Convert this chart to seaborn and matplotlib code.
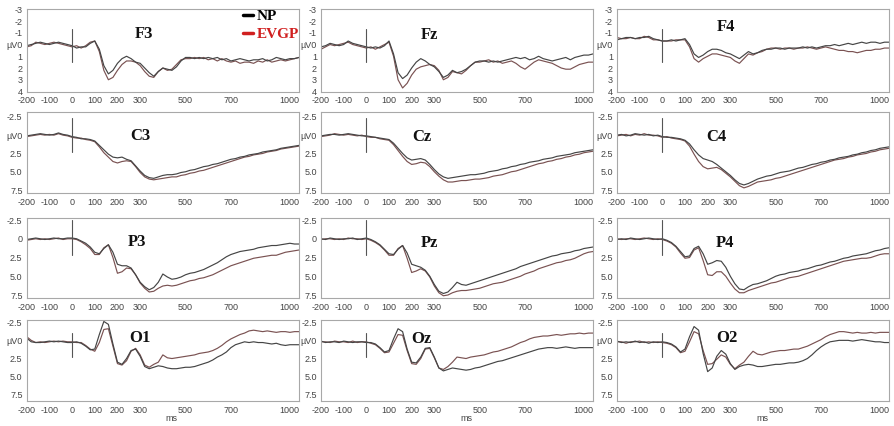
import numpy as np
import pandas as pd
import matplotlib
matplotlib.use("Agg")
import matplotlib.pyplot as plt
from matplotlib.lines import Line2D
import seaborn as sns

# Time axis (ms), sampled every 20 ms
times = np.arange(-200, 1001, 20)

# Grand-average ERP amplitudes (µV) per electrode, NP and EVGP groups
F3_NP = [0.1, 0.0, -0.1, -0.2, -0.1, 0.0, -0.1, -0.2, -0.1, 0.0,
         0.1, 0.3, 0.2, 0.2, -0.1, -0.3, 0.4, 1.8, 2.5, 2.2,
         1.6, 1.2, 1.0, 1.2, 1.5, 1.6, 2.0, 2.4, 2.7, 2.3,
         2.0, 2.1, 2.2, 1.9, 1.4, 1.1, 1.1, 1.2, 1.1, 1.2,
         1.1, 1.2, 1.1, 1.3, 1.2, 1.4, 1.3, 1.2, 1.3, 1.4,
         1.3, 1.3, 1.2, 1.4, 1.3, 1.1, 1.2, 1.3, 1.2, 1.2, 1.1]
F3_EVGP = [0.2, 0.1, -0.2, -0.1, 0.0, -0.1, -0.2, -0.1, 0.0, 0.1,
           0.2, 0.1, 0.3, 0.1, -0.2, -0.3, 0.6, 2.2, 3.0, 2.8,
           2.2, 1.7, 1.4, 1.4, 1.5, 1.8, 2.3, 2.7, 2.8, 2.3,
           2.0, 2.2, 2.1, 1.7, 1.3, 1.2, 1.2, 1.1, 1.2, 1.1,
           1.3, 1.2, 1.4, 1.2, 1.4, 1.5, 1.4, 1.6, 1.5, 1.5,
           1.6, 1.4, 1.5, 1.3, 1.5, 1.4, 1.3, 1.4, 1.3, 1.2, 1.1]

Fz_NP = [0.2, 0.1, -0.1, 0.0, 0.1, 0.0, -0.3, -0.1, 0.0, 0.1,
         0.2, 0.3, 0.2, 0.3, 0.1, -0.3, 0.8, 2.4, 2.9, 2.6,
         2.0, 1.5, 1.2, 1.4, 1.7, 1.9, 2.3, 2.8, 2.6, 2.2,
         2.4, 2.3, 2.1, 1.8, 1.5, 1.4, 1.4, 1.5, 1.4, 1.5,
         1.4, 1.3, 1.2, 1.1, 1.2, 1.1, 1.3, 1.2, 1.0, 1.2,
         1.3, 1.4, 1.3, 1.2, 1.1, 1.3, 1.1, 1.0, 0.9, 0.9, 0.8]
Fz_EVGP = [0.4, 0.2, 0.0, 0.1, 0.0, -0.1, -0.2, 0.0, 0.1, 0.2,
           0.3, 0.2, 0.4, 0.2, 0.0, -0.2, 1.0, 3.0, 3.7, 3.3,
           2.6, 2.1, 1.9, 1.8, 1.7, 1.8, 2.2, 3.0, 2.8, 2.3,
           2.4, 2.5, 2.2, 1.8, 1.5, 1.5, 1.4, 1.3, 1.5, 1.4,
           1.6, 1.5, 1.4, 1.6, 1.9, 2.1, 1.8, 1.5, 1.3, 1.4,
           1.5, 1.6, 1.8, 2.0, 2.1, 2.1, 1.9, 1.7, 1.6, 1.5, 1.5]

F4_NP = [-0.4, -0.5, -0.6, -0.6, -0.5, -0.6, -0.6, -0.7, -0.5, -0.4,
         -0.3, -0.3, -0.4, -0.3, -0.4, -0.5, 0.0, 0.8, 1.1, 0.9,
         0.6, 0.4, 0.4, 0.5, 0.7, 0.8, 1.0, 1.2, 0.9, 0.6,
         0.8, 0.7, 0.5, 0.4, 0.4, 0.3, 0.3, 0.4, 0.3, 0.3,
         0.3, 0.2, 0.3, 0.2, 0.3, 0.2, 0.1, 0.1, 0.0, 0.1,
         0.0, -0.1, 0.0, -0.1, -0.2, -0.1, -0.2, -0.2, -0.1, -0.2, -0.2]
F4_EVGP = [-0.6, -0.5, -0.5, -0.6, -0.5, -0.5, -0.7, -0.6, -0.4, -0.4,
           -0.3, -0.3, -0.3, -0.4, -0.4, -0.4, 0.2, 1.2, 1.5, 1.2,
           1.0, 0.8, 0.8, 0.9, 1.0, 1.1, 1.4, 1.6, 1.2, 0.8,
           0.9, 0.7, 0.6, 0.4, 0.3, 0.3, 0.4, 0.3, 0.3, 0.4,
           0.3, 0.3, 0.2, 0.3, 0.4, 0.3, 0.2, 0.3, 0.4, 0.5,
           0.5, 0.6, 0.6, 0.7, 0.6, 0.5, 0.5, 0.4, 0.4, 0.3, 0.3]

C3_NP = [0.1, 0.0, -0.1, -0.2, -0.1, 0.0, -0.1, -0.3, -0.1, 0.0,
         0.2, 0.3, 0.5, 0.5, 0.6, 0.8, 1.4, 2.0, 2.6, 3.0,
         3.1, 3.0, 3.3, 3.5, 4.2, 4.9, 5.5, 5.8, 5.9, 5.7,
         5.5, 5.4, 5.4, 5.3, 5.1, 5.0, 4.8, 4.7, 4.5, 4.3,
         4.2, 4.0, 3.9, 3.7, 3.5, 3.3, 3.2, 3.0, 2.9, 2.7,
         2.6, 2.5, 2.3, 2.2, 2.1, 2.0, 1.8, 1.7, 1.6, 1.5, 1.4]
C3_EVGP = [0.2, 0.1, 0.0, -0.1, 0.0, -0.1, 0.0, -0.2, 0.0, 0.1,
           0.3, 0.4, 0.4, 0.6, 0.7, 0.9, 1.6, 2.4, 3.0, 3.6,
           3.8, 3.6, 3.5, 3.6, 4.3, 5.1, 5.7, 6.0, 6.1, 6.0,
           5.9, 5.8, 5.7, 5.7, 5.5, 5.4, 5.2, 5.1, 4.9, 4.8,
           4.6, 4.4, 4.2, 4.0, 3.8, 3.6, 3.4, 3.2, 3.0, 2.9,
           2.7, 2.6, 2.5, 2.3, 2.2, 2.1, 1.9, 1.8, 1.7, 1.6, 1.5]

Cz_NP = [0.1, 0.0, -0.1, -0.1, 0.0, -0.1, -0.2, -0.1, 0.0, 0.1,
         0.1, 0.2, 0.3, 0.4, 0.5, 0.6, 1.1, 1.8, 2.5, 3.1,
         3.4, 3.3, 3.2, 3.4, 4.0, 4.7, 5.3, 5.7, 5.9, 5.8,
         5.7, 5.6, 5.5, 5.4, 5.4, 5.3, 5.2, 5.0, 4.9, 4.8,
         4.6, 4.5, 4.3, 4.2, 4.0, 3.9, 3.7, 3.6, 3.5, 3.3,
         3.2, 3.1, 2.9, 2.8, 2.7, 2.6, 2.4, 2.3, 2.2, 2.1, 2.0]
Cz_EVGP = [0.2, 0.1, 0.0, -0.2, -0.1, 0.0, -0.1, 0.0, 0.1, 0.0,
           0.2, 0.3, 0.3, 0.5, 0.6, 0.7, 1.3, 2.1, 2.9, 3.6,
           4.0, 3.9, 3.7, 3.8, 4.3, 5.0, 5.6, 6.1, 6.4, 6.4,
           6.3, 6.2, 6.2, 6.1, 6.0, 6.0, 5.9, 5.8, 5.6, 5.5,
           5.4, 5.2, 5.0, 4.9, 4.7, 4.5, 4.3, 4.1, 3.9, 3.8,
           3.6, 3.5, 3.3, 3.2, 3.0, 2.9, 2.7, 2.6, 2.4, 2.3, 2.2]

C4_NP = [0.0, -0.1, 0.1, 0.0, -0.2, -0.1, 0.0, -0.1, 0.1, 0.0,
         0.2, 0.3, 0.3, 0.4, 0.5, 0.7, 1.2, 2.0, 2.7, 3.2,
         3.4, 3.6, 4.0, 4.5, 5.0, 5.5, 6.1, 6.6, 6.8, 6.6,
         6.3, 6.0, 5.8, 5.6, 5.5, 5.3, 5.1, 5.0, 4.9, 4.7,
         4.5, 4.4, 4.2, 4.0, 3.9, 3.7, 3.6, 3.4, 3.3, 3.1,
         3.0, 2.9, 2.7, 2.6, 2.4, 2.3, 2.1, 2.0, 1.8, 1.7, 1.6]
C4_EVGP = [0.1, 0.0, -0.1, 0.1, -0.1, 0.0, -0.2, 0.0, 0.0, 0.1,
           0.3, 0.2, 0.4, 0.5, 0.6, 0.8, 1.5, 2.6, 3.6, 4.3,
           4.6, 4.5, 4.4, 4.7, 5.2, 5.7, 6.3, 6.9, 7.2, 7.0,
           6.7, 6.4, 6.3, 6.2, 6.1, 5.9, 5.8, 5.6, 5.4, 5.2,
           5.0, 4.8, 4.6, 4.4, 4.2, 4.0, 3.8, 3.6, 3.4, 3.3,
           3.2, 3.0, 2.9, 2.7, 2.6, 2.5, 2.3, 2.2, 2.0, 1.9, 1.8]

P3_NP = [0.1, 0.0, -0.1, 0.0, 0.1, 0.0, -0.1, 0.0, 0.0, -0.1,
         -0.1, 0.0, 0.3, 0.6, 1.1, 1.8, 2.0, 1.3, 0.8, 1.8,
         3.4, 3.6, 3.6, 3.9, 4.8, 5.8, 6.4, 6.8, 6.5, 5.8,
         4.7, 5.1, 5.4, 5.3, 5.1, 4.8, 4.6, 4.5, 4.3, 4.1,
         3.8, 3.5, 3.2, 2.8, 2.4, 2.1, 1.9, 1.7, 1.6, 1.5,
         1.4, 1.2, 1.1, 1.0, 0.9, 0.9, 0.8, 0.7, 0.6, 0.7, 0.7]
P3_EVGP = [0.2, 0.1, 0.0, 0.1, 0.0, 0.1, 0.0, -0.1, 0.1, 0.0,
           0.0, 0.1, 0.4, 0.8, 1.3, 2.1, 2.1, 1.2, 0.8, 2.5,
           4.6, 4.4, 3.9, 4.0, 4.8, 5.9, 6.6, 7.1, 7.0, 6.6,
           6.3, 6.2, 6.3, 6.2, 6.0, 5.8, 5.6, 5.5, 5.3, 5.2,
           5.0, 4.8, 4.5, 4.2, 3.9, 3.6, 3.4, 3.2, 3.0, 2.8,
           2.6, 2.5, 2.4, 2.3, 2.2, 2.2, 2.0, 1.8, 1.7, 1.6, 1.5]

Pz_NP = [0.0, 0.1, -0.1, 0.0, 0.1, 0.0, 0.0, -0.1, 0.1, 0.0,
         -0.1, 0.1, 0.4, 0.8, 1.4, 2.0, 2.1, 1.4, 0.9, 1.9,
         3.4, 3.6, 3.8, 4.2, 5.0, 6.1, 7.0, 7.3, 7.1, 6.5,
         5.8, 6.1, 6.2, 6.0, 5.8, 5.6, 5.4, 5.2, 5.0, 4.8,
         4.6, 4.4, 4.2, 4.0, 3.7, 3.5, 3.3, 3.1, 2.9, 2.7,
         2.5, 2.3, 2.2, 2.0, 1.9, 1.8, 1.6, 1.5, 1.3, 1.2, 1.1]
Pz_EVGP = [0.1, 0.0, 0.0, 0.1, 0.0, 0.1, -0.1, 0.0, 0.0, 0.1,
           0.0, 0.2, 0.5, 0.9, 1.5, 2.2, 2.2, 1.3, 0.9, 2.6,
           4.5, 4.3, 4.0, 4.3, 5.1, 6.3, 7.2, 7.6, 7.5, 7.2,
           7.0, 6.9, 6.9, 6.8, 6.7, 6.6, 6.4, 6.2, 6.0, 5.9,
           5.8, 5.6, 5.4, 5.2, 5.0, 4.7, 4.5, 4.3, 4.0, 3.8,
           3.6, 3.4, 3.2, 3.1, 2.9, 2.8, 2.6, 2.3, 2.0, 1.8, 1.7]

P4_NP = [0.1, 0.0, 0.1, -0.1, 0.0, 0.1, 0.0, -0.1, 0.0, 0.1,
         0.0, 0.2, 0.5, 1.0, 1.7, 2.4, 2.3, 1.3, 1.0, 2.0,
         3.4, 3.2, 2.9, 3.0, 3.8, 5.0, 6.0, 6.7, 6.8, 6.4,
         6.1, 6.0, 5.8, 5.6, 5.3, 5.0, 4.8, 4.7, 4.5, 4.4,
         4.3, 4.1, 4.0, 3.8, 3.6, 3.5, 3.3, 3.1, 3.0, 2.8,
         2.6, 2.5, 2.3, 2.2, 2.1, 2.0, 1.8, 1.6, 1.5, 1.3, 1.2]
P4_EVGP = [0.0, 0.1, 0.0, 0.0, 0.1, 0.0, -0.1, 0.0, 0.1, 0.0,
           0.1, 0.3, 0.6, 1.1, 1.9, 2.6, 2.5, 1.5, 1.2, 2.9,
           4.8, 4.9, 4.4, 4.4, 5.0, 5.9, 6.7, 7.2, 7.2, 6.9,
           6.7, 6.5, 6.3, 6.1, 5.9, 5.8, 5.6, 5.4, 5.2, 5.1,
           5.0, 4.8, 4.6, 4.4, 4.2, 4.0, 3.8, 3.6, 3.4, 3.2,
           3.0, 2.9, 2.8, 2.7, 2.6, 2.6, 2.5, 2.3, 2.1, 2.0, 2.0]

O1_NP = [-0.3, 0.2, 0.3, 0.3, 0.2, 0.1, 0.2, 0.1, 0.2, 0.3,
         0.3, 0.2, 0.4, 0.8, 1.3, 1.2, -0.8, -2.6, -2.2, 0.5,
         3.0, 3.3, 2.5, 1.4, 1.2, 2.2, 3.6, 3.9, 3.7, 3.5,
         3.6, 3.8, 3.9, 3.9, 3.8, 3.7, 3.7, 3.6, 3.4, 3.2,
         3.0, 2.7, 2.3, 2.0, 1.6, 1.0, 0.6, 0.4, 0.2, 0.3,
         0.2, 0.3, 0.3, 0.4, 0.5, 0.4, 0.6, 0.7, 0.6, 0.6, 0.6]
O1_EVGP = [-0.5, 0.0, 0.3, 0.2, 0.3, 0.2, 0.1, 0.2, 0.1, 0.2,
           0.2, 0.3, 0.3, 0.7, 1.2, 1.5, 0.3, -1.5, -1.6, 0.8,
           3.2, 3.4, 2.8, 1.5, 1.1, 2.0, 3.4, 3.7, 3.3, 3.0,
           2.0, 2.4, 2.5, 2.4, 2.3, 2.2, 2.1, 2.0, 1.8, 1.7,
           1.6, 1.4, 1.1, 0.7, 0.2, -0.2, -0.5, -0.8, -1.0, -1.3,
           -1.4, -1.3, -1.2, -1.3, -1.2, -1.1, -1.2, -1.2, -1.1, -1.2, -1.2]

Oz_NP = [0.1, 0.3, 0.2, 0.2, 0.3, 0.1, 0.2, 0.3, 0.2, 0.2,
         0.3, 0.3, 0.5, 1.0, 1.6, 1.4, -0.2, -1.6, -1.2, 1.2,
         3.0, 3.1, 2.3, 1.1, 1.0, 2.3, 3.8, 4.2, 4.0, 3.8,
         3.9, 4.0, 4.1, 4.0, 3.8, 3.7, 3.5, 3.3, 3.1, 2.9,
         2.8, 2.6, 2.4, 2.2, 2.0, 1.8, 1.6, 1.4, 1.2, 1.1,
         1.0, 1.0, 1.1, 1.0, 0.9, 1.0, 1.1, 1.0, 1.0, 1.0, 1.0]
Oz_EVGP = [0.2, 0.2, 0.3, 0.1, 0.2, 0.2, 0.3, 0.1, 0.3, 0.2,
           0.2, 0.4, 0.6, 1.1, 1.7, 1.6, 0.4, -0.8, -0.7, 1.4,
           3.2, 3.3, 2.5, 1.2, 1.1, 2.4, 3.8, 4.0, 3.6, 3.0,
           2.3, 2.4, 2.5, 2.3, 2.2, 2.1, 2.0, 1.8, 1.6, 1.5,
           1.3, 1.1, 0.9, 0.6, 0.3, 0.1, -0.2, -0.4, -0.5, -0.6,
           -0.6, -0.7, -0.8, -0.7, -0.8, -0.9, -0.9, -1.0, -0.9, -1.0, -1.0]

O2_NP = [0.1, 0.3, 0.2, 0.3, 0.1, 0.3, 0.2, 0.4, 0.2, 0.3,
         0.2, 0.3, 0.5, 0.9, 1.6, 1.2, -0.5, -1.9, -1.4, 1.8,
         4.3, 3.8, 2.2, 1.4, 1.9, 3.2, 4.0, 3.6, 3.4, 3.3,
         3.4, 3.6, 3.6, 3.5, 3.4, 3.3, 3.3, 3.2, 3.1, 3.1,
         3.0, 2.8, 2.5, 2.0, 1.4, 0.9, 0.5, 0.2, 0.1, 0.0,
         0.0, 0.0, 0.1, 0.0, -0.1, 0.0, 0.1, 0.2, 0.2, 0.3, 0.3]
O2_EVGP = [0.2, 0.2, 0.4, 0.2, 0.2, 0.1, 0.3, 0.2, 0.3, 0.2,
           0.3, 0.4, 0.6, 1.0, 1.7, 1.5, 0.2, -1.2, -0.9, 1.4,
           3.3, 3.2, 2.6, 2.0, 2.3, 3.3, 3.9, 3.4, 3.0, 2.2,
           1.5, 1.9, 2.0, 1.8, 1.6, 1.5, 1.4, 1.4, 1.3, 1.2,
           1.2, 1.0, 0.8, 0.5, 0.2, -0.1, -0.5, -0.8, -1.0, -1.2,
           -1.2, -1.1, -1.0, -1.1, -1.0, -1.0, -1.1, -1.0, -1.1, -1.1, -1.1]

electrodes = [["F3", "Fz", "F4"],
              ["C3", "Cz", "C4"],
              ["P3", "Pz", "P4"],
              ["O1", "Oz", "O2"]]
series = {
    "F3": (F3_NP, F3_EVGP), "Fz": (Fz_NP, Fz_EVGP), "F4": (F4_NP, F4_EVGP),
    "C3": (C3_NP, C3_EVGP), "Cz": (Cz_NP, Cz_EVGP), "C4": (C4_NP, C4_EVGP),
    "P3": (P3_NP, P3_EVGP), "Pz": (Pz_NP, Pz_EVGP), "P4": (P4_NP, P4_EVGP),
    "O1": (O1_NP, O1_EVGP), "Oz": (Oz_NP, Oz_EVGP), "O2": (O2_NP, O2_EVGP),
}
groups = ["NP", "EVGP"]

x_ticks = list(range(-200, 1001, 100))
x_labels = ["-200", "-100", "0", "100", "200", "300", "", "500", "", "700", "", "", "1000"]
row_yticks = [[-3, -2, -1, 0, 1, 2, 3, 4],
              [-2.5, 0, 2.5, 5.0, 7.5],
              [-2.5, 0, 2.5, 5.0, 7.5],
              [-2.5, 0, 2.5, 5.0, 7.5]]
row_ylabels = [["-3", "-2", "-1", "µV0", "1", "2", "3", "4"],
               ["-2.5", "µV0", "2.5", "5.0", "7.5"],
               ["-2.5", "0", "2.5", "5.0", "7.5"],
               ["-2.5", "µV0", "2.5", "5.0", "7.5"]]
label_pos = {"F3": (315, -0.9), "Fz": (280, -0.8), "F4": (280, -1.5),
             "C3": (300, 0.1), "Cz": (245, 0.3), "C4": (240, 0.3),
             "P3": (285, 0.4), "Pz": (280, 0.5), "P4": (275, 0.5),
             "O1": (300, -0.3), "Oz": (245, -0.2), "O2": (285, -0.3)}

# layout in pixels (figure 894 x 426)
W, H = 894, 426
col_left = [26.7, 321.0, 617.0]
col_width = [272.3, 272.0, 272.0]
row_box = [(9.3, 91.5), (111.7, 193.0), (218.0, 298.0), (320.0, 400.7)]
row_ylim = [(4.0, -3.0), (7.9, -3.2), (7.9, -2.77), (8.3, -2.8)]
row_stim = [(0.36, 0.76), (0.51, 0.92), (0.54, 0.975), (0.545, 0.843)]

sns.set_style("white")
plt.rcParams["font.family"] = ["Liberation Sans", "DejaVu Sans"]

palette = {"NP": "#454545", "EVGP": "#7a5252"}
frame_col = "#a8a8a8"
tick_col = "#444444"

fig = plt.figure(figsize=(W / 100, H / 100), dpi=100)

for r, row in enumerate(electrodes):
    top, bottom = row_box[r]
    for c, name in enumerate(row):
        ax = fig.add_axes([col_left[c] / W, 1 - bottom / H,
                           col_width[c] / W, (bottom - top) / H])
        np_vals, ev_vals = series[name]
        df = pd.DataFrame({
            "ms": np.concatenate([times, times]),
            "uV": np.concatenate([np_vals, ev_vals]),
            "group": ["NP"] * len(times) + ["EVGP"] * len(times),
        })
        sns.lineplot(data=df, x="ms", y="uV", hue="group", hue_order=["EVGP", "NP"],
                     palette=palette, estimator=None, linewidth=0.85,
                     legend=False, ax=ax)
        ax.set_xlim(-200, 1000)
        ax.set_ylim(*row_ylim[r])
        ax.axvline(0, ymin=row_stim[r][0], ymax=row_stim[r][1],
                   color="#555555", linewidth=0.8)
        ax.set_xticks(x_ticks)
        ax.set_xticklabels(x_labels)
        ax.get_xticklabels()[-1].set_horizontalalignment("right")
        ax.set_yticks(row_yticks[r])
        ax.set_yticklabels(row_ylabels[r])
        ax.tick_params(axis="x", direction="inout", length=4, width=0.6,
                       color=frame_col, labelsize=6.5, labelcolor=tick_col, pad=1.5)
        ax.tick_params(axis="y", direction="out", length=2, width=0.6,
                       color=frame_col, labelsize=6.5, labelcolor=tick_col, pad=1)
        for sp in ax.spines.values():
            sp.set_color(frame_col)
            sp.set_linewidth(0.8)
        ax.set_ylabel("")
        if r == 3:
            ax.set_xlabel("ms", fontsize=6.5, color=tick_col, labelpad=0)
            ax.xaxis.set_label_coords(0.533, -0.17)
        else:
            ax.set_xlabel("")
        lx, ly = label_pos[name]
        ax.text(lx, ly, name, fontsize=12, fontweight="bold",
                family=["Liberation Serif", "DejaVu Serif"],
                ha="center", va="center", color="#111111")
        if name == "F3":
            handles = [Line2D([], [], color="black", linewidth=2.5),
                       Line2D([], [], color="#d01f1f", linewidth=2.5)]
            ax.legend(handles, groups, loc="upper left", bbox_to_anchor=(0.794, 1.0),
                      frameon=False, handlelength=0.65, handletextpad=0.26,
                      labelspacing=0.3, borderpad=0, borderaxespad=0,
                      prop={"family": ["Liberation Serif"], "weight": "bold", "size": 11},
                      labelcolor=["black", "#d01f1f"])

fig.savefig("out.png", dpi=100)
